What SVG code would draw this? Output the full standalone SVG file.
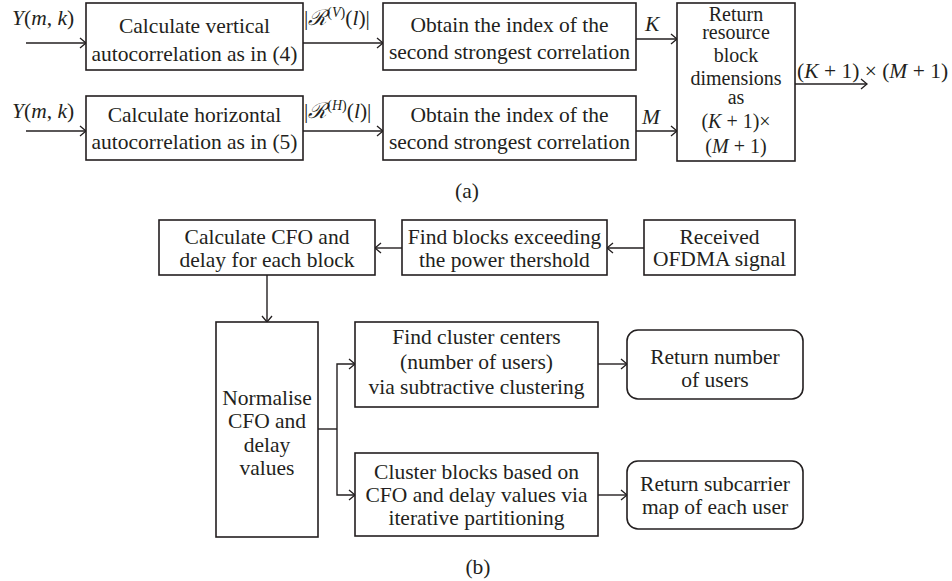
<svg xmlns="http://www.w3.org/2000/svg" width="952" height="581" viewBox="0 0 952 581">
<defs>
<marker id="ah" markerWidth="12" markerHeight="12" refX="9" refY="6" orient="auto" markerUnits="userSpaceOnUse">
<path d="M3,1 L9,6 L3,11" fill="none" stroke="#231f20" stroke-width="1.3"/>
</marker>
<style>
.box{fill:#fff;stroke:#231f20;stroke-width:1.6}
.t{font-family:"Liberation Serif","Times New Roman",serif;font-size:21.5px;fill:#231f20;text-anchor:middle}
.tl{font-family:"Liberation Serif","Times New Roman",serif;font-size:21.5px;fill:#231f20}
.s{font-size:20px}
.i{font-style:italic}
.c{fill:none;stroke:#231f20;stroke-width:1.4}
.ca{fill:none;stroke:#231f20;stroke-width:1.4;marker-end:url(#ah)}
</style>
</defs>
<rect width="952" height="581" fill="#fff"/>

<g id="connectors">
<line class="ca" x1="26" y1="43" x2="86" y2="43"/>
<line class="ca" x1="26" y1="131" x2="86" y2="131"/>
<line class="ca" x1="303" y1="43" x2="383" y2="43"/>
<line class="ca" x1="303" y1="131" x2="383" y2="131"/>
<line class="ca" x1="636" y1="39" x2="677" y2="39"/>
<line class="ca" x1="636" y1="131" x2="677" y2="131"/>
<line class="ca" x1="795" y1="84" x2="867" y2="84"/>
<line class="ca" x1="644" y1="248" x2="607" y2="248"/>
<line class="ca" x1="402" y1="248" x2="375" y2="248"/>
<line class="ca" x1="267" y1="275" x2="267" y2="322"/>
<polyline class="c" points="318,429 337,429"/>
<polyline class="ca" points="337,429 337,364 355,364"/>
<polyline class="ca" points="337,429 337,495 355,495"/>
<line class="ca" x1="598" y1="364" x2="627" y2="364"/>
<line class="ca" x1="598" y1="495" x2="627" y2="495"/>
</g>

<g id="labels">
<text class="tl" x="12" y="25"><tspan class="i">Y</tspan>(<tspan class="i">m</tspan>, <tspan class="i">k</tspan>)</text>
<text class="tl" x="12" y="118"><tspan class="i">Y</tspan>(<tspan class="i">m</tspan>, <tspan class="i">k</tspan>)</text>
<text class="tl" x="304" y="25">|<tspan class="i">ℛ</tspan><tspan font-size="14" dy="-8">(<tspan class="i">V</tspan>)</tspan><tspan dy="8">(</tspan><tspan class="i">l</tspan>)|</text>
<text class="tl" x="304" y="118">|<tspan class="i">ℛ</tspan><tspan font-size="14" dy="-8">(<tspan class="i">H</tspan>)</tspan><tspan dy="8">(</tspan><tspan class="i">l</tspan>)|</text>
<text class="tl i" x="645" y="31">K</text>
<text class="tl i" x="642" y="124">M</text>
<text class="tl" x="797" y="78">(<tspan class="i">K</tspan> + 1) × (<tspan class="i">M</tspan> + 1)</text>
<text class="t" x="467" y="198">(a)</text>
<text class="t" x="478" y="574">(b)</text>
</g>

<g id="calc-vertical">
<rect class="box" x="86" y="3" width="217" height="67"/>
<text class="t" x="194.5" y="33">Calculate vertical</text>
<text class="t" x="194.5" y="61">autocorrelation as in (4)</text>
</g>
<g id="calc-horizontal">
<rect class="box" x="86" y="96" width="217" height="64"/>
<text class="t" x="194.5" y="122">Calculate horizontal</text>
<text class="t" x="194.5" y="149">autocorrelation as in (5)</text>
</g>
<g id="obtain-k">
<rect class="box" x="383" y="3" width="253" height="67"/>
<text class="t" x="509.5" y="32">Obtain the index of the</text>
<text class="t" x="509.5" y="59">second strongest correlation</text>
</g>
<g id="obtain-m">
<rect class="box" x="383" y="96" width="253" height="64"/>
<text class="t" x="509.5" y="122">Obtain the index of the</text>
<text class="t" x="509.5" y="149">second strongest correlation</text>
</g>
<g id="return-dims">
<rect class="box" x="677" y="3" width="118" height="158"/>
<text class="t s" x="736" y="21">Return</text>
<text class="t s" x="736" y="39">resource</text>
<text class="t s" x="736" y="62">block</text>
<text class="t s" x="736" y="85">dimensions</text>
<text class="t s" x="736" y="104">as</text>
<text class="t s" x="736" y="128">(<tspan class="i">K</tspan> + 1)×</text>
<text class="t s" x="736" y="153">(<tspan class="i">M</tspan> + 1)</text>
</g>

<g id="calc-cfo">
<rect class="box" x="159" y="220" width="216" height="55"/>
<text class="t" x="267" y="244">Calculate CFO and</text>
<text class="t" x="267" y="267">delay for each block</text>
</g>
<g id="find-blocks">
<rect class="box" x="402" y="220" width="205" height="55"/>
<text class="t" x="504.5" y="244">Find blocks exceeding</text>
<text class="t" x="504.5" y="267">the power thershold</text>
</g>
<g id="received">
<rect class="box" x="644" y="220" width="151" height="55"/>
<text class="t" x="719.5" y="244">Received</text>
<text class="t" x="719.5" y="266">OFDMA signal</text>
</g>
<g id="normalise">
<rect class="box" x="216" y="322" width="102" height="215"/>
<text class="t" x="267" y="405">Normalise</text>
<text class="t" x="267" y="428">CFO and</text>
<text class="t" x="267" y="452">delay</text>
<text class="t" x="267" y="475">values</text>
</g>
<g id="find-cluster">
<rect class="box" x="355" y="322" width="243" height="85"/>
<text class="t" x="476.5" y="344">Find cluster centers</text>
<text class="t" x="476.5" y="369">(number of users)</text>
<text class="t" x="476.5" y="394">via subtractive clustering</text>
</g>
<g id="cluster-blocks">
<rect class="box" x="355" y="453" width="243" height="83"/>
<text class="t" x="476.5" y="479">Cluster blocks based on</text>
<text class="t" x="476.5" y="502">CFO and delay values via</text>
<text class="t" x="476.5" y="525">iterative partitioning</text>
</g>
<g id="return-users">
<rect class="box" x="627" y="330" width="176" height="69" rx="11"/>
<text class="t" x="715" y="364">Return number</text>
<text class="t" x="715" y="387">of users</text>
</g>
<g id="return-map">
<rect class="box" x="627" y="461" width="176" height="68" rx="11"/>
<text class="t" x="715" y="491">Return subcarrier</text>
<text class="t" x="715" y="514">map of each user</text>
</g>
</svg>
